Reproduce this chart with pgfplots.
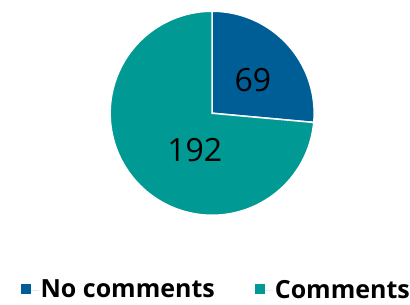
\documentclass[border=0pt]{standalone}
\usepackage{pgfplots}
\pgfplotsset{compat=1.18}
\usepackage{fontspec}
\setmainfont{Open Sans}
\definecolor{cblue}{RGB}{0,94,150}
\definecolor{cteal}{RGB}{0,153,148}
\begin{document}
\begin{tikzpicture}[x=1pt,y=1pt]
\useasboundingbox (0,0) rectangle (410,305);
% data values
\def\vNo{69}
\def\vCo{192}
\pgfmathsetmacro\total{\vNo+\vCo}
\pgfmathsetmacro\angA{90-\vNo/\total*360}
\pgfmathsetmacro\angB{\angA-\vCo/\total*360}
\begin{axis}[
  at={(208,188)}, anchor=center,
  scale only axis, width=204pt, height=204pt,
  xmin=-1, xmax=1, ymin=-1, ymax=1,
  axis lines=none, clip=false,
  legend columns=2,
  legend style={at={(0.52,-0.365)}, anchor=center, draw=none, fill=none,
    inner sep=0pt,
    font=\fontsize{25}{28}\selectfont\bfseries,
    /tikz/every even column/.append style={column sep=38pt},
    legend cell align=left},
  legend image code/.code={\path (0pt,0pt) rectangle (18pt,0pt); \fill[#1] (0pt,-4pt) rectangle (10pt,6pt);},
]
\addplot[forget plot, fill=cblue, draw=white, line width=1.5pt, domain=\angA:90, samples=80]
  ({cos(x)},{sin(x)}) -- (axis cs:0,0) -- cycle;
\addplot[forget plot, fill=cteal, draw=white, line width=1.5pt, domain=\angB:\angA, samples=150]
  ({cos(x)},{sin(x)}) -- (axis cs:0,0) -- cycle;
\node[font=\fontsize{32}{38}\selectfont] at (axis cs:0.40,0.33) {\vNo};
\node[font=\fontsize{32}{38}\selectfont] at (axis cs:-0.17,-0.36) {\vCo};
\addlegendimage{fill=cblue, draw=none}
\addlegendentry{No comments}
\addlegendimage{fill=cteal, draw=none}
\addlegendentry{Comments}
\end{axis}
\end{tikzpicture}
\end{document}
